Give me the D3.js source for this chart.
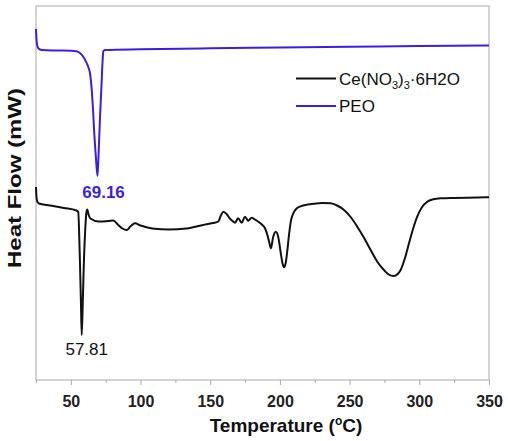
<html>
<head>
<style>
  body { margin: 0; background: #fff; }
  text { font-family: "Liberation Sans", Arial, sans-serif; }
</style>
</head>
<body>
<svg width="508" height="441" class="chart"></svg>
<script src="https://d3js.org/d3.v7.min.js" charset="utf-8"></script>
<script>
    // temperature (C) and heat flow (arbitrary mW, shifted curves)
    peoTemp = [25, 25.3, 25.8, 26.8, 29, 40, 50, 54, 56.5, 58.9, 61, 62.5, 63.7, 65, 66, 66.8, 68, 69.16, 70, 71, 72, 72.8, 73.3, 75, 100, 150, 200, 250, 300, 350]
    peoFlow = [35.1, 34.2, 33.5, 33.15, 33.0, 32.95, 32.92, 32.87, 32.7, 32.33, 31.8, 31.3, 30.7, 29.0, 26.8, 24.7, 22.2, 20.4, 23.0, 26.5, 29.5, 32.0, 32.9, 33.0, 33.07, 33.17, 33.25, 33.32, 33.4, 33.45]

    ceTemp = [25, 25.3, 25.8, 27, 35, 45, 54, 55.3, 56.3, 57.2, 57.81, 58.6, 59.4, 60.3, 61.2, 61.8, 62.8, 64, 70, 77, 80.5, 84, 87, 90, 93, 96, 100, 105, 110, 120, 133, 145, 152, 155.8, 157.5, 159.4, 162, 164, 166, 167.8, 170, 172.6, 174.9, 177.3, 179.7, 182, 184.5, 187, 189.3, 191, 192.3, 193.6, 195, 197, 198.8, 200.5, 201.8, 202.9, 204, 205.2, 206.5, 208, 209.6, 212, 214.8, 220, 224.2, 230, 236.4, 241, 246, 251, 255.5, 260, 265.1, 270, 274.6, 278, 281.8, 284.5, 286.6, 289.5, 292.6, 295.5, 298.5, 302, 305.7, 310, 315.3, 325, 334.4, 350]
    ceFlow = [19.3, 18.4, 17.9, 17.65, 17.45, 17.2, 16.95, 16.8, 13.0, 8.0, 4.5, 8.0, 12.0, 15.0, 16.8, 17.05, 16.5, 16.15, 15.85, 15.9, 15.95, 15.5, 15.15, 15.0, 15.4, 15.67, 15.45, 15.25, 15.13, 15.05, 15.15, 15.5, 15.7, 15.85, 16.4, 16.83, 16.55, 16.17, 15.9, 15.73, 16.17, 15.73, 16.33, 15.93, 16.23, 16.05, 15.83, 15.55, 15.17, 14.5, 13.8, 13.17, 14.2, 14.83, 14.3, 12.8, 11.7, 11.27, 11.6, 12.8, 14.5, 16.0, 16.67, 17.15, 17.37, 17.55, 17.62, 17.7, 17.67, 17.45, 17.0, 16.25, 15.33, 14.3, 13.0, 11.8, 11.0, 10.55, 10.4, 10.6, 11.0, 12.1, 13.67, 15.1, 16.33, 17.3, 17.83, 18.07, 18.17, 18.21, 18.23, 18.27]

    majorTicks = [50, 100, 150, 200, 250, 300, 350]
    minorTicks = [25, 75, 125, 175, 225, 275, 325]
    seriesNames = ["Ce(NO3)3·6H2O", "PEO"]
    peakLabels = ["69.16", "57.81"]

    var blue = "#3a1fe0"
    var frameColor = "#a8a8a8"
    var svg = d3.select(".chart")
    var pl = 36, pr = 489, pt = 6, pb = 380

    var x = d3.scaleLinear().domain([25, 350]).range([pl, pr])
    var y = d3.scaleLinear().domain([0, 37.4]).range([pb, pt])

    // frame
    svg.append("rect").attr("x", pl).attr("y", pt)
        .attr("width", pr - pl).attr("height", pb - pt)
        .attr("fill", "none").attr("stroke", frameColor).attr("stroke-width", 1)

    var major = svg.append("g").attr("transform", "translate(0," + pb + ")")
        .call(d3.axisBottom(x).tickValues(majorTicks).tickSize(5).tickPadding(11).tickFormat(d3.format("d")))
    var minor = svg.append("g").attr("transform", "translate(0," + pb + ")")
        .call(d3.axisBottom(x).tickValues(minorTicks).tickSize(3).tickFormat(""))
    svg.selectAll(".domain").remove()
    svg.selectAll(".tick line").attr("stroke", frameColor)
    major.selectAll("text").attr("font-family", "Liberation Sans, Arial, sans-serif")
        .attr("font-size", 16).attr("font-weight", "bold").attr("fill", "#222")

    line = function(xs, ys){
        return d3.line().x(function(d){ return x(xs[d]) }).y(function(d){ return y(ys[d]) })
            .curve(d3.curveMonotoneX)(d3.range(xs.length))
    }
    svg.append("path").attr("d", line(ceTemp, ceFlow)).attr("fill", "none")
        .attr("stroke", "#111").attr("stroke-width", 2).attr("stroke-linejoin", "round")
    svg.append("path").attr("d", line(peoTemp, peoFlow)).attr("fill", "none")
        .attr("stroke", blue).attr("stroke-width", 2).attr("stroke-linejoin", "round")

    // peak labels
    svg.append("text").attr("x", x(69.16) + 6).attr("y", y(20.4) + 22).attr("text-anchor", "middle")
        .attr("font-size", 17).attr("font-weight", "bold").attr("fill", blue).text(peakLabels[0])
    svg.append("text").attr("x", x(57.81) + 5).attr("y", y(4.5) + 20).attr("text-anchor", "middle")
        .attr("font-size", 17).attr("fill", "#111").text(peakLabels[1])

    // legend
    var legend = svg.append("g")
    var rows = [{c: "#111", y: 78.5}, {c: blue, y: 106}]
    rows.forEach(function(r, i){
        legend.append("line").attr("x1", 296).attr("x2", 336).attr("y1", r.y).attr("y2", r.y)
            .attr("stroke", r.c).attr("stroke-width", 2)
    })
    var t1 = legend.append("text").attr("x", 339).attr("y", rows[0].y + 6).attr("font-size", 17).attr("fill", "#111")
    t1.append("tspan").text("Ce(NO")
    t1.append("tspan").attr("font-size", 11).attr("dy", 4).text("3")
    t1.append("tspan").attr("dy", -4).text(")")
    t1.append("tspan").attr("font-size", 11).attr("dy", 4).text("3")
    t1.append("tspan").attr("dy", -4).text("·6H2O")
    legend.append("text").attr("x", 339).attr("y", rows[1].y + 6).attr("font-size", 17)
        .attr("fill", "#111").text(seriesNames[1])

    // axis titles
    var xt = svg.append("text").attr("x", 286).attr("y", 432).attr("text-anchor", "middle")
        .attr("font-size", 19).attr("font-weight", "bold").attr("fill", "#111")
    xt.append("tspan").text("Temperature (")
    xt.append("tspan").attr("font-size", 12).attr("dy", -7).text("o")
    xt.append("tspan").attr("dy", 7).text("C)")

    svg.append("text").attr("transform", "translate(20.5,178) rotate(-90)").attr("text-anchor", "middle")
        .attr("font-size", 19).attr("font-weight", "bold").attr("fill", "#111")
        .attr("textLength", 180).attr("lengthAdjust", "spacingAndGlyphs").text("Heat Flow (mW)")
</script>
</body>
</html>
